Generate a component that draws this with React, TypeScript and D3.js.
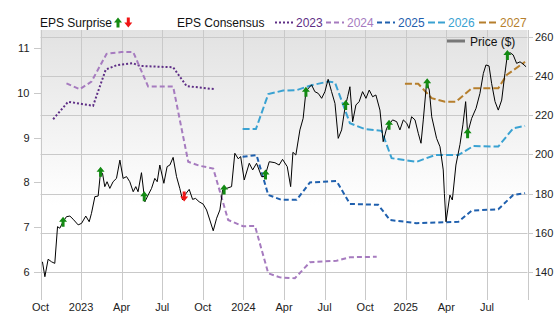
import React from 'react';
import * as d3 from 'd3';

// ---- axis ticks ----
const quarterTicks = [2022.75, 2023, 2023.25, 2023.5, 2023.75, 2024, 2024.25, 2024.5, 2024.75, 2025, 2025.25, 2025.5, 2025.75];
const quarterLabels = ['Oct', '2023', 'Apr', 'Jul', 'Oct', '2024', 'Apr', 'Jul', 'Oct', '2025', 'Apr', 'Jul', ''];
const epsTicks = [6, 7, 8, 9, 10, 11];
const priceTicks = [140, 160, 180, 200, 220, 240, 260];

// ---- price (decimal year, $) ----
const price: [number, number][] = [
  [2022.762, 145.2], [2022.777, 137.6], [2022.797, 146.5], [2022.818, 145.2], [2022.838, 144.4],
  [2022.855, 163.1], [2022.869, 162.3], [2022.889, 165.6], [2022.910, 168.2], [2022.931, 168.5],
  [2022.951, 166.9], [2022.982, 164.0], [2023.003, 164.8], [2023.029, 168.5], [2023.050, 165.6],
  [2023.064, 169.9], [2023.085, 178.4], [2023.105, 178.7], [2023.120, 191.1], [2023.132, 190.3],
  [2023.146, 183.5], [2023.160, 186.0], [2023.177, 182.6], [2023.197, 186.0], [2023.218, 187.7],
  [2023.239, 197.0], [2023.259, 187.7], [2023.280, 188.6], [2023.300, 186.0], [2023.321, 180.9],
  [2023.337, 183.5], [2023.351, 180.9], [2023.372, 190.6], [2023.393, 175.8], [2023.413, 179.2],
  [2023.434, 182.6], [2023.454, 187.7], [2023.469, 186.0], [2023.485, 194.5], [2023.510, 185.2],
  [2023.530, 193.7], [2023.547, 194.5], [2023.567, 198.4], [2023.588, 188.6], [2023.608, 182.6],
  [2023.625, 176.7], [2023.639, 179.2], [2023.666, 182.1], [2023.687, 177.0], [2023.705, 177.5],
  [2023.727, 175.8], [2023.752, 174.6], [2023.773, 171.6], [2023.793, 166.5], [2023.814, 161.0],
  [2023.835, 167.4], [2023.855, 171.6], [2023.872, 181.8], [2023.896, 182.6], [2023.927, 183.5],
  [2023.947, 200.5], [2023.968, 197.7], [2023.983, 198.8], [2024.005, 186.9], [2024.036, 195.4],
  [2024.057, 192.0], [2024.081, 195.4], [2024.112, 188.6], [2024.132, 188.6], [2024.159, 196.2],
  [2024.194, 195.7], [2024.220, 194.5], [2024.241, 197.4], [2024.270, 193.7], [2024.291, 183.5],
  [2024.305, 201.0], [2024.323, 199.6], [2024.348, 212.4], [2024.368, 218.3], [2024.385, 231.9],
  [2024.405, 234.1], [2024.420, 235.3], [2024.440, 231.9], [2024.461, 231.0], [2024.482, 228.5],
  [2024.502, 231.9], [2024.522, 238.2], [2024.543, 231.9], [2024.564, 225.9], [2024.584, 208.1],
  [2024.605, 212.4], [2024.625, 223.4], [2024.642, 229.3], [2024.656, 234.4], [2024.673, 216.6],
  [2024.693, 225.1], [2024.713, 226.8], [2024.734, 231.9], [2024.755, 228.5], [2024.775, 232.7],
  [2024.796, 229.3], [2024.816, 230.2], [2024.841, 222.5], [2024.861, 206.4], [2024.882, 213.2],
  [2024.903, 215.8], [2024.919, 217.5], [2024.944, 216.6], [2024.964, 212.4], [2024.985, 217.5],
  [2025.006, 215.8], [2025.020, 213.2], [2025.036, 219.1], [2025.057, 217.5], [2025.077, 210.7],
  [2025.094, 205.6], [2025.108, 217.5], [2025.129, 237.0], [2025.145, 232.7], [2025.160, 219.1],
  [2025.190, 208.1], [2025.211, 203.8], [2025.231, 192.0], [2025.238, 180.0], [2025.248, 165.6],
  [2025.272, 179.2], [2025.287, 176.7], [2025.309, 194.5], [2025.334, 205.0], [2025.352, 215.0],
  [2025.369, 226.8], [2025.381, 210.7], [2025.406, 218.3], [2025.433, 223.4], [2025.457, 231.0],
  [2025.478, 241.2], [2025.494, 245.5], [2025.513, 245.0], [2025.529, 236.1], [2025.550, 226.8],
  [2025.570, 222.5], [2025.591, 227.6], [2025.611, 241.2], [2025.626, 250.6], [2025.642, 251.8],
  [2025.662, 250.6], [2025.683, 246.3], [2025.704, 247.1], [2025.722, 246.0], [2025.741, 244.6],
];

// ---- EPS consensus by fiscal year (decimal year, EPS) ----
const eps2023: [number, number][] = [
  [2022.828, 9.41], [2022.920, 9.80], [2023.074, 9.71], [2023.152, 10.52], [2023.222, 10.62],
  [2023.321, 10.66], [2023.362, 10.60], [2023.567, 10.57], [2023.650, 10.15], [2023.824, 10.08],
];
const eps2024: [number, number][] = [
  [2022.910, 10.21], [2022.992, 10.08], [2023.064, 10.25], [2023.157, 10.87], [2023.249, 10.91],
  [2023.321, 10.91], [2023.413, 10.14], [2023.567, 10.14], [2023.660, 8.46], [2023.732, 8.37],
  [2023.814, 8.31], [2023.906, 7.16], [2023.999, 7.02], [2024.071, 7.03], [2024.153, 5.97],
  [2024.225, 5.88], [2024.317, 5.86], [2024.410, 6.22], [2024.574, 6.25], [2024.656, 6.33],
  [2024.821, 6.34],
];
const eps2025: [number, number][] = [
  [2023.995, 8.57], [2024.081, 8.61], [2024.153, 7.72], [2024.235, 7.61], [2024.328, 7.61],
  [2024.410, 8.00], [2024.574, 8.03], [2024.656, 7.52], [2024.830, 7.50], [2024.903, 7.16],
  [2025.067, 7.09], [2025.324, 7.12], [2025.406, 7.37], [2025.570, 7.40], [2025.662, 7.72],
  [2025.735, 7.76],
];
const eps2026: [number, number][] = [
  [2023.995, 9.19], [2024.077, 9.19], [2024.153, 9.97], [2024.245, 10.05], [2024.328, 10.06],
  [2024.420, 10.17], [2024.522, 10.25], [2024.564, 10.23], [2024.656, 9.32], [2024.749, 9.19],
  [2024.851, 9.15], [2024.913, 8.54], [2025.067, 8.46], [2025.180, 8.61], [2025.324, 8.61],
  [2025.416, 8.81], [2025.570, 8.80], [2025.662, 9.21], [2025.735, 9.26],
];
const eps2027: [number, number][] = [
  [2024.995, 10.20], [2025.077, 10.20], [2025.160, 9.88], [2025.242, 9.80], [2025.309, 9.80],
  [2025.406, 10.10], [2025.570, 10.10], [2025.622, 10.40], [2025.735, 10.69],
];

// ---- EPS surprises (report dates) ----
const surpriseUp = [2022.889, 2023.120, 2023.389, 2023.881, 2024.136, 2024.385, 2024.630, 2024.897, 2025.132, 2025.381, 2025.626];
const surpriseDown = [2023.635];

// ---- styles ----
const seriesStyles = [
  { name: '2023', data: eps2023, color: '#5e2e86', dash: '2,2', lx: 275, tx: 296 },
  { name: '2024', data: eps2024, color: '#a67bbf', dash: '5,3', lx: 326, tx: 347 },
  { name: '2025', data: eps2025, color: '#1f60ae', dash: '5,3', lx: 377, tx: 398 },
  { name: '2026', data: eps2026, color: '#3aa2d2', dash: '7,3', lx: 428, tx: 448 },
  { name: '2027', data: eps2027, color: '#b67f2d', dash: '7,3', lx: 479, tx: 500 },
];

const FONT = '"Liberation Sans", Arial, Helvetica, sans-serif';
const GREEN = '#138a13';
const RED = '#f01414';
const GRID = '#c9c9c9';

const W = 556;
const H = 315;
const PLOT_L = 40.5;
const PLOT_R = 527.5;
const PLOT_T = 30;
const PLOT_B = 300;

function upArrow(cx: number, cy: number) {
  return `M${cx - 4},${cy} L${cx},${cy - 5} L${cx + 4},${cy} L${cx + 1.5},${cy} L${cx + 1.5},${cy + 5} L${cx - 1.5},${cy + 5} L${cx - 1.5},${cy} Z`;
}
function downArrow(cx: number, cy: number) {
  return `M${cx - 4},${cy} L${cx},${cy + 5} L${cx + 4},${cy} L${cx + 1.5},${cy} L${cx + 1.5},${cy - 5} L${cx - 1.5},${cy - 5} L${cx - 1.5},${cy} Z`;
}

export default function App() {
  const x = d3.scaleLinear().domain([2022.75, 2025.75]).range([PLOT_L, PLOT_R]);
  const yL = d3.scaleLinear().domain([6, 11]).range([272, 48]);
  const yR = d3.scaleLinear().domain([140, 260]).range([272, 36.5]);

  const priceLine = d3.line<[number, number]>().x(d => x(d[0])).y(d => yR(d[1]));
  const epsLine = d3.line<[number, number]>().x(d => x(d[0])).y(d => yL(d[1]));

  const bis = d3.bisector((d: [number, number]) => d[0]).left;
  const priceAt = (t: number) => {
    const i = Math.max(1, Math.min(price.length - 1, bis(price, t)));
    const a = price[i - 1];
    const b = price[i];
    const k = (t - a[0]) / (b[0] - a[0]);
    return a[1] + (b[1] - a[1]) * k;
  };

  const crisp = (v: number) => Math.round(v) + 0.5;

  return (
    <div style={{ position: 'fixed', left: 0, top: 0, width: W, height: H, background: '#fff' }}>
      <svg width={W} height={H} style={{ display: 'block', fontFamily: FONT }}>
        <defs>
          <linearGradient id="bg" x1="0" y1="0" x2="0" y2="1">
            <stop offset="0%" stopColor="#e2e2e2" />
            <stop offset="65%" stopColor="#ffffff" />
            <stop offset="100%" stopColor="#ffffff" />
          </linearGradient>
          <clipPath id="plotClip">
            <rect x={PLOT_L} y={PLOT_T} width={PLOT_R - PLOT_L} height={PLOT_B - PLOT_T} />
          </clipPath>
        </defs>
        <rect x={PLOT_L} y={PLOT_T} width={PLOT_R - PLOT_L} height={PLOT_B - PLOT_T} fill="url(#bg)" />

        {/* grid */}
        {priceTicks.map(v => (
          <line key={'h' + v} x1={PLOT_L} x2={PLOT_R} y1={crisp(yR(v))} y2={crisp(yR(v))} stroke={GRID} strokeWidth={1} />
        ))}
        {quarterTicks.map(t => (
          <line key={'v' + t} x1={crisp(x(t))} x2={crisp(x(t))} y1={PLOT_T} y2={PLOT_B} stroke={GRID} strokeWidth={1} />
        ))}

        {/* left axis */}
        {epsTicks.map(v => (
          <g key={'l' + v}>
            <line x1={34} x2={crisp(x(2022.75))} y1={crisp(yL(v))} y2={crisp(yL(v))} stroke={GRID} />
            <text x={29.5} y={yL(v) + 4} textAnchor="end" fontSize={11} fill="#222">{v}</text>
          </g>
        ))}
        {/* right axis */}
        {priceTicks.map(v => (
          <g key={'r' + v}>
            <line x1={crisp(x(2025.75))} x2={533} y1={crisp(yR(v))} y2={crisp(yR(v))} stroke={GRID} />
            <text x={535} y={yR(v) + 4} fontSize={11} fill="#222">{v}</text>
          </g>
        ))}
        {/* x labels */}
        {quarterTicks.map((t, i) => (
          <text key={'x' + t} x={x(t)} y={311} textAnchor="middle" fontSize={11} fill="#222">{quarterLabels[i]}</text>
        ))}

        <g clipPath="url(#plotClip)">
          {seriesStyles.map(s => (
            <path key={s.name} d={epsLine(s.data) || ''} fill="none" stroke={s.color} strokeWidth={2} strokeDasharray={s.dash} />
          ))}
          <path d={priceLine(price) || ''} fill="none" stroke="#000" strokeWidth={1} strokeLinejoin="round" />
          {surpriseUp.map(t => (
            <path key={'u' + t} d={upArrow(x(t), yR(priceAt(t)))} fill={GREEN} />
          ))}
          {surpriseDown.map(t => (
            <path key={'d' + t} d={downArrow(x(t), yR(priceAt(t)))} fill={RED} />
          ))}
        </g>

        {/* legend */}
        <text x={40} y={26.5} fontSize={12} fill="#111">EPS Surprise</text>
        <path d={upArrow(118, 22.5)} fill={GREEN} />
        <path d={downArrow(128.3, 22.5)} fill={RED} />
        <text x={177} y={26.5} fontSize={12} fill="#111">EPS Consensus</text>
        {seriesStyles.map(s => (
          <g key={'lg' + s.name}>
            <line x1={s.lx} x2={s.lx + 18} y1={22.5} y2={22.5} stroke={s.color} strokeWidth={2} strokeDasharray={s.dash} />
            <text x={s.tx} y={26.5} fontSize={12} fill={s.color}>{s.name}</text>
          </g>
        ))}
        <line x1={447} x2={465} y1={41} y2={41} stroke="#777" strokeWidth={3} />
        <text x={470} y={45.5} fontSize={12} fill="#111">Price ($)</text>
      </svg>
    </div>
  );
}
